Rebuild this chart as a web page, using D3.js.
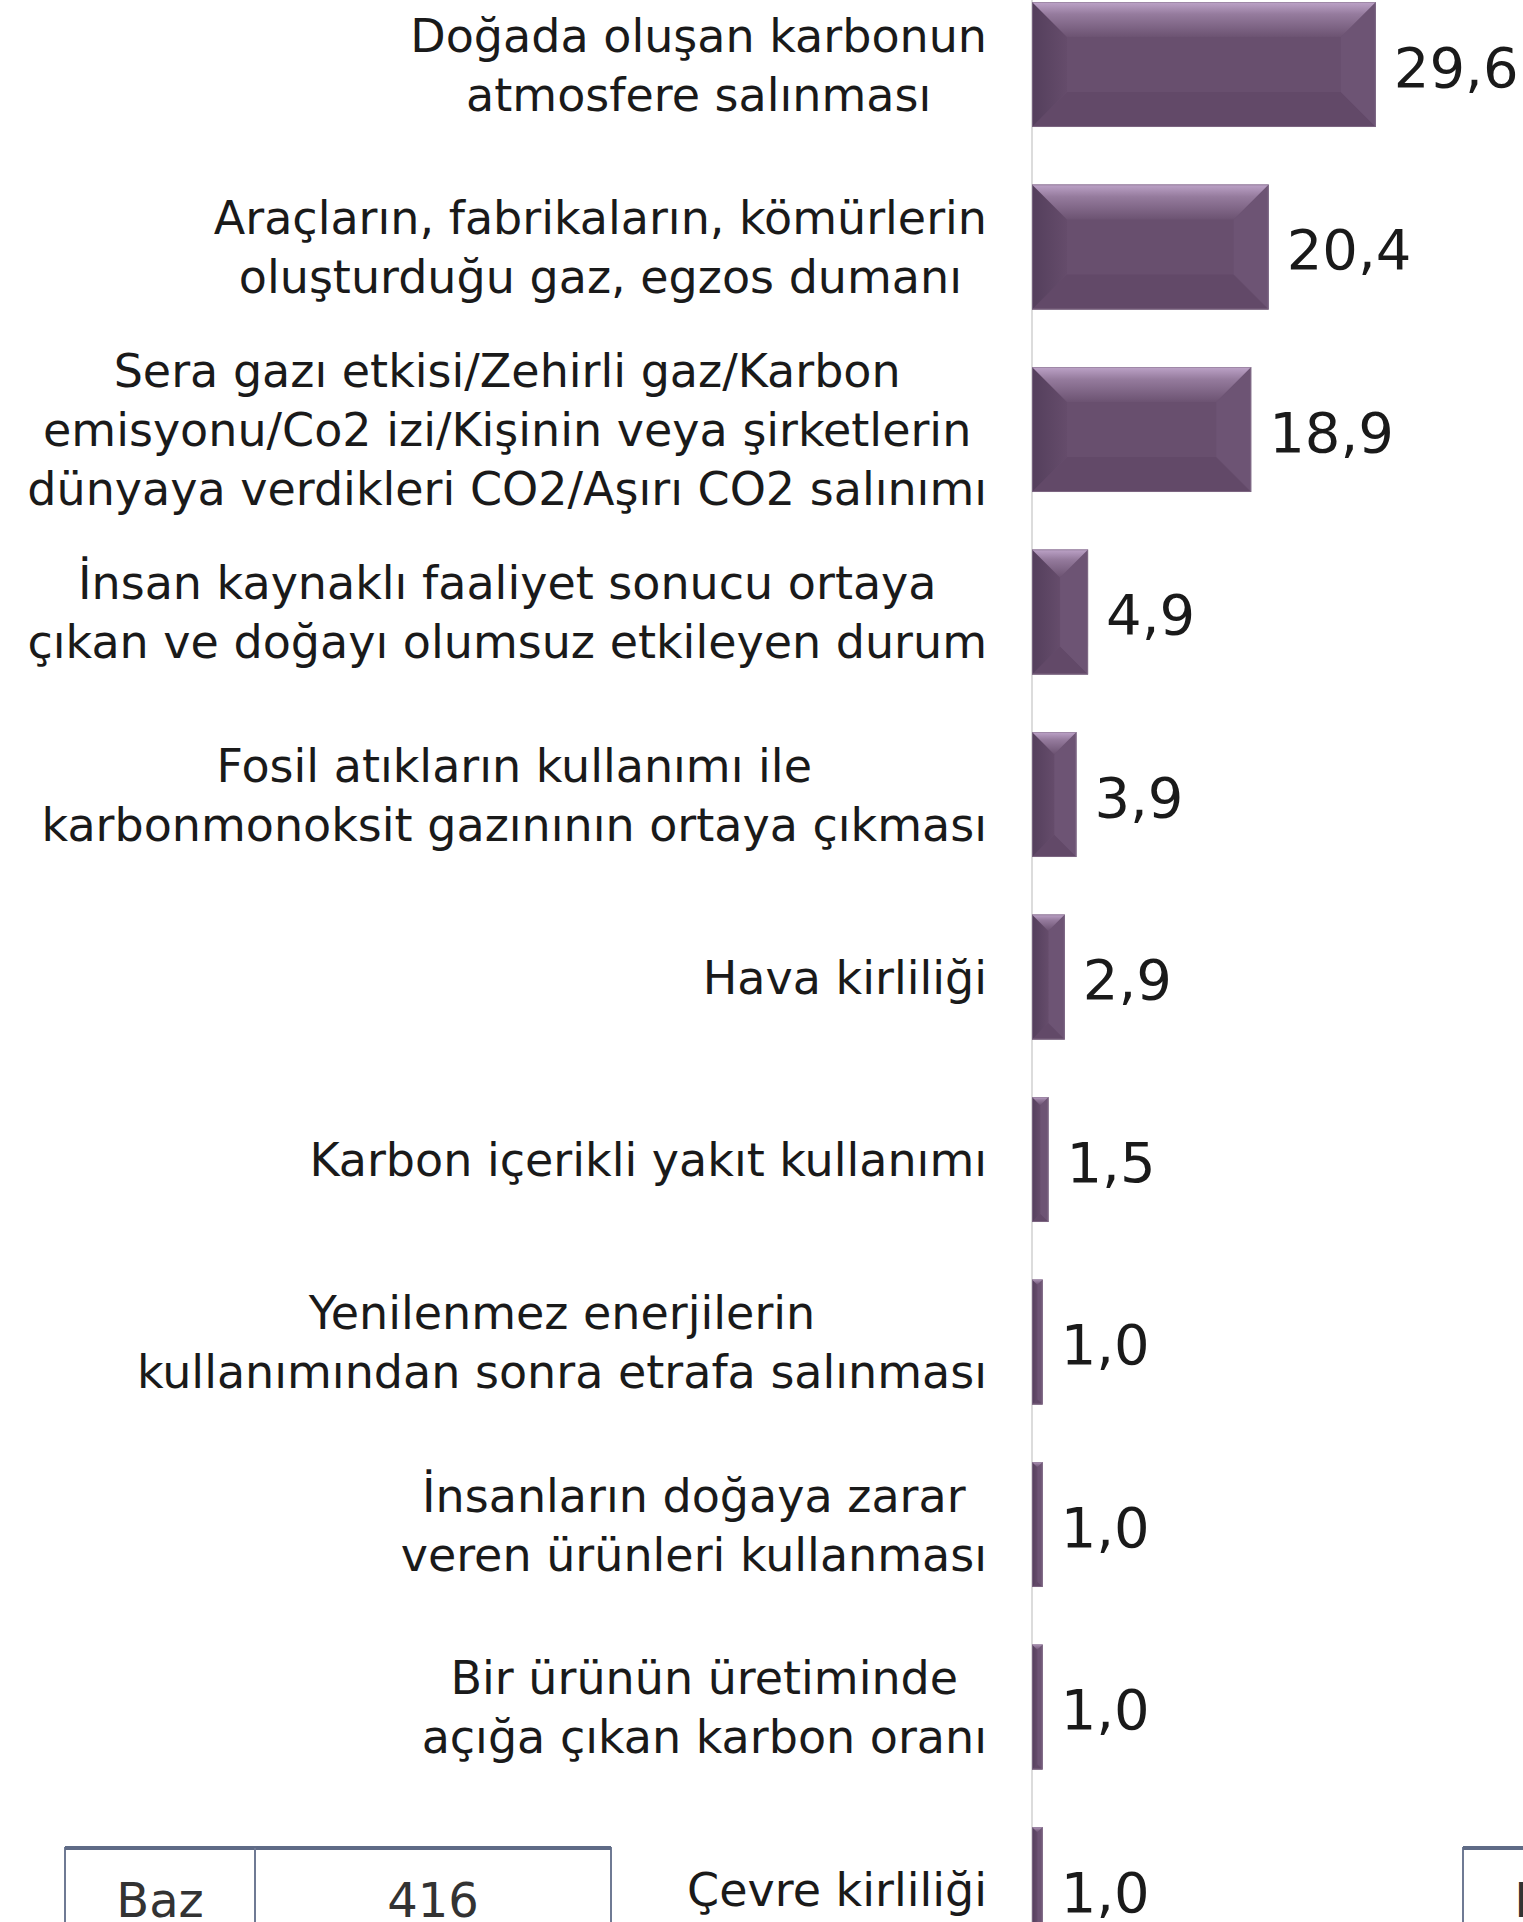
<!DOCTYPE html>
<html>
<head>
<meta charset="utf-8">
<script src="https://cdn.jsdelivr.net/npm/d3@7"></script>
<style>
  body { margin: 0; background: #fff; }
  svg { display: block; }
</style>
</head>
<body>
<svg width="1523" height="1922"></svg>
<script>
var categories = [
  ["Doğada oluşan karbonun", "atmosfere salınması"],
  ["Araçların, fabrikaların, kömürlerin", "oluşturduğu gaz, egzos dumanı"],
  ["Sera gazı etkisi/Zehirli gaz/Karbon", "emisyonu/Co2 izi/Kişinin veya şirketlerin", "dünyaya verdikleri CO2/Aşırı CO2 salınımı"],
  ["İnsan kaynaklı faaliyet sonucu ortaya", "çıkan ve doğayı olumsuz etkileyen durum"],
  ["Fosil atıkların kullanımı ile", "karbonmonoksit gazınının ortaya çıkması"],
  ["Hava kirliliği"],
  ["Karbon içerikli yakıt kullanımı"],
  ["Yenilenmez enerjilerin", "kullanımından sonra etrafa salınması"],
  ["İnsanların doğaya zarar", "veren ürünleri kullanması"],
  ["Bir ürünün üretiminde", "açığa çıkan karbon oranı"],
  ["Çevre kirliliği"]
];
var values = [29.6, 20.4, 18.9, 4.9, 3.9, 2.9, 1.5, 1.0, 1.0, 1.0, 1.0];
var bazLabel = "Baz";
var bazValue = "416";

var svg = d3.select('svg');
var font = "'DejaVu Sans', sans-serif";

var keys = categories.map(function(d){ return d.join(' '); });

// scales
var x = d3.scaleLinear().domain([0, 30]).range([1031, 1380.5]);
var step = 182.5;
var y = d3.scaleBand().domain(keys)
    .range([2, 2 + step * (keys.length - 0.315)])
    .paddingInner(0.315).paddingOuter(0);

// gradients for the bevel look
var defs = svg.append('defs');
var gTop = defs.append('linearGradient').attr('id','bevTop').attr('x1',0).attr('y1',0).attr('x2',0).attr('y2',1);
gTop.append('stop').attr('offset','0%').attr('stop-color','#bda3c8');
gTop.append('stop').attr('offset','35%').attr('stop-color','#957b9d');
gTop.append('stop').attr('offset','100%').attr('stop-color','#6c5372');
var gLeft = defs.append('linearGradient').attr('id','bevLeft').attr('x1',0).attr('y1',0).attr('x2',1).attr('y2',0);
gLeft.append('stop').attr('offset','0%').attr('stop-color','#543f5c');
gLeft.append('stop').attr('offset','100%').attr('stop-color','#654c6b');

// axis line
svg.append('line')
    .attr('x1', x(0) + 1).attr('x2', x(0) + 1)
    .attr('y1', 0).attr('y2', 1922)
    .attr('stroke', '#dcdcdc').attr('stroke-width', 2);

var bars = svg.selectAll('.bar')
    .data(values)
    .enter()
    .append('g')
    .attr('class', 'bar');

function pts(a){ return a.map(function(p){ return p.join(','); }).join(' '); }

bars.each(function(v, i){
    var g = d3.select(this);
    var x0 = x(0) + 1, x1 = x(v);
    var y0 = y(keys[i]), y1 = y0 + y.bandwidth();
    var b = Math.min(35, (x1 - x0) / 2, (y1 - y0) / 2);
    g.append('rect').attr('x', x0).attr('y', y0).attr('width', x1 - x0).attr('height', y1 - y0)
        .attr('fill', '#684f6e');
    g.append('polygon').attr('points', pts([[x0,y1],[x1,y1],[x1-b,y1-b],[x0+b,y1-b]])).attr('fill', '#624968');
    g.append('polygon').attr('points', pts([[x1,y0],[x1-b,y0+b],[x1-b,y1-b],[x1,y1]])).attr('fill', '#6d5474');
    g.append('polygon').attr('points', pts([[x0,y0],[x0+b,y0+b],[x0+b,y1-b],[x0,y1]])).attr('fill', 'url(#bevLeft)');
    g.append('polygon').attr('points', pts([[x0,y0],[x1,y0],[x1-b,y0+b],[x0+b,y0+b]])).attr('fill', 'url(#bevTop)');
    g.append('rect').attr('x', x0 + 0.5).attr('y', y0 + 0.5).attr('width', x1 - x0 - 1).attr('height', y1 - y0 - 1)
        .attr('fill', 'none').attr('stroke', '#8c7892').attr('stroke-width', 1).attr('stroke-opacity', 0.6);
});

// value labels
svg.selectAll('.val')
    .data(values)
    .enter()
    .append('text')
    .attr('class', 'val')
    .attr('x', function(d){ return x(d) + 18; })
    .attr('y', function(d, i){ return y(keys[i]) + y.bandwidth() / 2 + 22; })
    .style('font-family', font)
    .style('font-size', '56px')
    .attr('fill', '#1a1a1a')
    .text(function(d){ return d.toFixed(1).replace('.', ','); });

// category labels, centred block, right edge at 987
var lineH = 58.8, labelSize = 46, rightEdge = 987;
var labels = svg.selectAll('.lab')
    .data(categories)
    .enter()
    .append('text')
    .attr('class', 'lab')
    .style('font-family', font)
    .style('font-size', labelSize + 'px')
    .attr('fill', '#1a1a1a')
    .attr('text-anchor', 'middle');

labels.each(function(lines, i){
    var t = d3.select(this);
    var cy = y(keys[i]) + y.bandwidth() / 2;
    lines.forEach(function(s, j){
        t.append('tspan')
            .attr('x', 0)
            .attr('y', cy + (j - (lines.length - 1) / 2) * lineH + labelSize * 0.365)
            .text(s);
    });
    var w = this.getBBox().width;
    t.selectAll('tspan').attr('x', rightEdge - w / 2);
});

// base tables (left one and the clipped one at right edge)
var tables = [65, 1463];
tables.forEach(function(tx){
    var tg = svg.append('g');
    tg.append('rect').attr('x', tx).attr('y', 1848).attr('width', 546).attr('height', 120)
        .attr('fill', 'none').attr('stroke', '#6f7a94').attr('stroke-width', 2);
    tg.append('line').attr('x1', tx).attr('x2', tx + 546).attr('y1', 1848).attr('y2', 1848)
        .attr('stroke', '#5f6b86').attr('stroke-width', 4);
    tg.append('line').attr('x1', tx + 190).attr('x2', tx + 190).attr('y1', 1848).attr('y2', 1968)
        .attr('stroke', '#6f7a94').attr('stroke-width', 2);
    tg.append('text').attr('x', tx + 95).attr('y', 1917).attr('text-anchor', 'middle')
        .style('font-family', font).style('font-size', '48px').attr('fill', '#333')
        .text(bazLabel);
    tg.append('text').attr('x', tx + 368).attr('y', 1917).attr('text-anchor', 'middle')
        .style('font-family', font).style('font-size', '48px').attr('fill', '#333')
        .text(bazValue);
});
</script>
</body>
</html>
